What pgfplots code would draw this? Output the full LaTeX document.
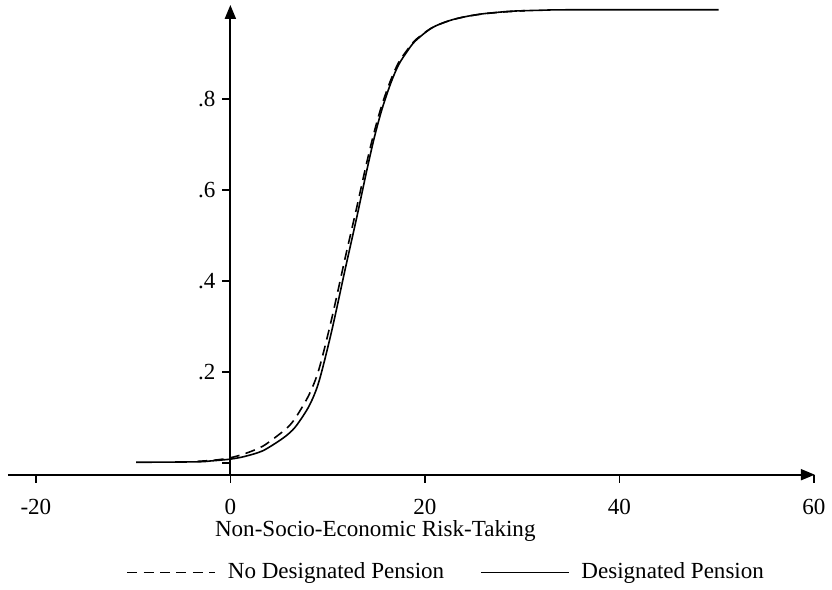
\documentclass[border=0pt]{standalone}
\usepackage{fontspec}
\setmainfont{Liberation Serif}
\usepackage{pgfplots}
\pgfplotsset{compat=1.18}
\usetikzlibrary{arrows.meta}

% solid: designated pension, dashed: no designated pension
\pgfplotstableread{
x y
-9.7 0.001
-3.5 0.002
-2.0 0.004
0.0 0.008
1.5 0.014
3.3 0.026
5.0 0.048
6.0 0.064
6.8 0.082
8.1 0.125
9.1 0.178
10.4 0.288
11.8 0.425
13.0 0.540
14.0 0.640
14.8 0.715
15.6 0.778
16.5 0.835
17.3 0.875
18.2 0.905
19.0 0.927
20.7 0.956
22.5 0.972
24.2 0.981
25.9 0.987
27.3 0.990
29.0 0.993
32.0 0.995
35.0 0.996
50.2 0.996
}\designated

\pgfplotstableread{
x y
-3.4 0.003
-1.5 0.006
0.0 0.011
1.5 0.020
3.3 0.036
5.0 0.062
6.0 0.080
6.8 0.102
8.1 0.150
9.1 0.205
10.4 0.315
11.8 0.450
13.0 0.562
14.0 0.658
14.8 0.728
15.6 0.788
16.5 0.842
17.3 0.880
18.2 0.908
19.0 0.929
20.7 0.956
22.5 0.972
24.2 0.981
26.0 0.987
28.0 0.991
30.3 0.994
}\nodesignated

\begin{document}
\begin{tikzpicture}[font=\fontsize{11.6}{13.8}\selectfont]
\begin{axis}[
scale only axis,
width=404.5bp,
height=235.5bp,
xmin=-22.87, xmax=60.1,
ymin=-0.0263, ymax=1.0066,
axis x line=bottom,
axis y line=middle,
axis line style={line width=1bp, -{Triangle[length=7bp,width=5.5bp]}},
tick align=outside,
tick style={black, line width=0.8bp},
major tick length=4bp,
xtick={-20,0,20,40,60},
xticklabels={-20,0,20,40,60},
ytick={0,0.2,0.4,0.6,0.8},
yticklabels={,.2,.4,.6,.8},
xticklabel style={yshift=-4.5bp},
xlabel={Non-Socio-Economic Risk-Taking},
xlabel style={at={(axis cs:14.9,-0.151)}, anchor=center},
legend columns=2,
legend style={at={(axis cs:22.3,-0.241)}, anchor=center, draw=none, fill=none,
  /tikz/every odd column/.append style={column sep=4bp},
  /tikz/every even column/.append style={column sep=16bp}},
legend image code/.code={\draw[#1] (0bp,0bp) -- (44bp,0bp);},
]
\addplot[black, line width=0.8bp, smooth, dash pattern=on 5bp off 3.2bp] table {\nodesignated};
\addlegendentry{No Designated Pension}
\addplot[black, line width=0.8bp, smooth] table {\designated};
\addlegendentry{Designated Pension}
\coordinate (bl) at (axis cs:-23.69,-0.2719);
\coordinate (tr) at (axis cs:61.64,1.0175);
\end{axis}
\path (bl) rectangle (tr);
\end{tikzpicture}
\end{document}
